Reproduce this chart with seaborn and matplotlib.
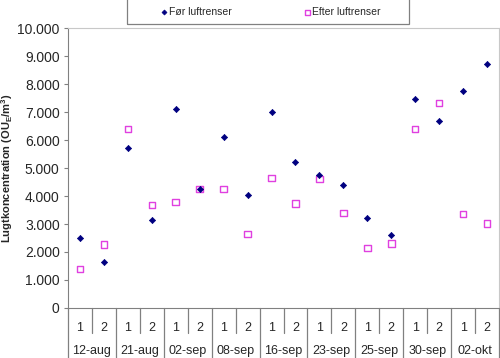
import numpy as np
import pandas as pd
import matplotlib
matplotlib.use("Agg")
import matplotlib.pyplot as plt
import seaborn as sns
from matplotlib.ticker import FuncFormatter
from matplotlib.patches import Rectangle

# data
dates = ["12-aug", "21-aug", "02-sep", "08-sep", "16-sep",
         "23-sep", "25-sep", "30-sep", "02-okt"]
runs = ["1", "2"]
foer = [2500, 1640, 5700, 3140, 7100, 4250, 6100, 4020, 7000,
        5230, 4750, 4400, 3220, 2600, 7470, 6680, 7750, 8720]
efter = [1400, 2260, 6390, 3680, 3790, 4250, 4250, 2640, 4650,
         3740, 4600, 3400, 2150, 2300, 6400, 7330, 3350, 3010]
series_names = ["Før luftrenser", "Efter luftrenser"]

n_slots = len(dates) * len(runs)
pos = np.arange(n_slots)
df = pd.DataFrame({
    "pos": np.concatenate([pos, pos]),
    "value": foer + efter,
    "serie": [series_names[0]] * n_slots + [series_names[1]] * n_slots,
})

sns.set_style("ticks")
plt.rcParams["font.family"] = ["Liberation Sans", "DejaVu Sans"]

fig = plt.figure(figsize=(5.0, 3.58), dpi=100)
ax = fig.add_axes([0.136, 0.1397, 0.862, 0.782])

sns.scatterplot(data=df[df["serie"] == series_names[1]], x="pos", y="value",
                marker="s", s=22, facecolor="none", edgecolor="#E040E0",
                linewidth=1.0, label=series_names[1], ax=ax, zorder=3)
sns.scatterplot(data=df[df["serie"] == series_names[0]], x="pos", y="value",
                marker="D", s=10, color="#000080", edgecolor="#000080",
                linewidth=0.5, label=series_names[0], ax=ax, zorder=4)

ax.set_xlim(-0.5, n_slots - 0.5)
ax.set_ylim(0, 10000)
ax.set_yticks(np.arange(0, 10001, 1000))
ax.yaxis.set_major_formatter(FuncFormatter(lambda v, p: f"{int(v):,}".replace(",", ".")))
ax.tick_params(axis="y", labelsize=10, length=3, color="#808080", pad=3)

ax.set_xticks(pos)
ax.set_xticklabels(runs * len(dates))
ax.tick_params(axis="x", labelsize=9, length=0, pad=10)
ax.set_xlabel("")
ax.set_ylabel("Lugtkoncentration (OU$_\\mathregular{E}$/m$^\\mathregular{3}$)",
              fontsize=8, fontweight="bold")
ax.yaxis.set_label_coords(-0.123, 0.5)

for side in ["left", "bottom"]:
    ax.spines[side].set_color("#808080")
for side in ["top", "right"]:
    ax.spines[side].set_visible(True)
    ax.spines[side].set_color("#C8C8C8")

# two-level category axis: short separators inside a date, long between dates
xt = ax.get_xaxis_transform()
for i in range(len(dates)):
    left = i * 2 - 0.5
    ax.plot([left, left], [0, -0.18], transform=xt, color="#808080",
            lw=0.9, clip_on=False)
    ax.plot([left + 1, left + 1], [0, -0.09], transform=xt, color="#808080",
            lw=0.9, clip_on=False)
    ax.text(i * 2 + 0.5, -0.155, dates[i], transform=xt, ha="center",
            va="center", fontsize=9)
ax.plot([n_slots - 0.5] * 2, [0, -0.18], transform=xt, color="#808080",
        lw=0.9, clip_on=False)

handles, labels = ax.get_legend_handles_labels()
ax.get_legend().remove()
order = [labels.index(name) for name in series_names]
fig.legend([handles[i] for i in order], [labels[i] for i in order],
           loc="center", bbox_to_anchor=(0.541, 0.966), ncol=2,
           fontsize=7.5, frameon=False, handletextpad=0.1,
           handlelength=0.8, columnspacing=6.8, markerscale=0.8)
fig.patches.append(Rectangle((0.254, 1 - 24 / 358), 0.564, 0.1,
                             transform=fig.transFigure, facecolor="none",
                             edgecolor="#808080", linewidth=0.9))

fig.savefig("out.png", dpi=100)
plt.close(fig)
